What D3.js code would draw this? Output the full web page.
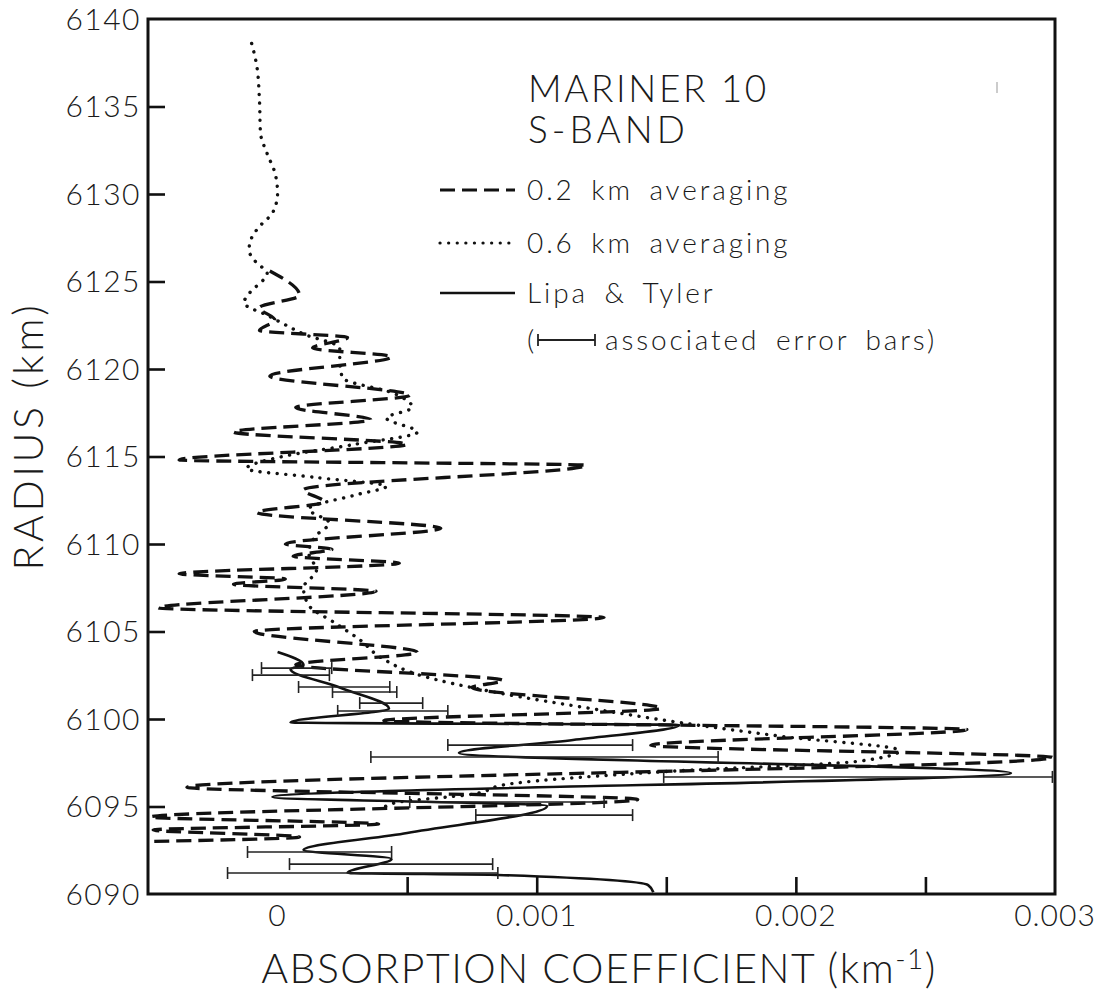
<!DOCTYPE html>
<html>
<head>
<meta charset="utf-8">
<script src="https://cdn.jsdelivr.net/npm/d3@7"></script>
<style>
  body { margin: 0; background: #fff; }
  text { font-family: Lato, "Open Sans", sans-serif; font-weight: 300; fill: #1a1a1a; }
</style>
</head>
<body>
<svg id="chart" width="1101" height="994"></svg>
<script>
// Radius (km) and absorption coefficient (km^-1) along each profile, top to bottom.
const avg02Radius = [6125.6, 6124.2, 6123.5, 6122.8, 6122.2, 6121.8, 6121.2, 6120.7, 6119.6, 6118.5,
  6117.8, 6117.1, 6116.4, 6115.7, 6114.8, 6114.5, 6113.1, 6112.4, 6111.8, 6110.9,
  6110.0, 6109.7, 6109.3, 6108.9, 6108.3, 6108.0, 6107.7, 6107.3, 6106.35, 6105.8,
  6105.0, 6103.8, 6103.1, 6102.2, 6101.8, 6100.6, 6099.9, 6099.4, 6098.5, 6097.8,
  6096.1, 6095.4, 6094.4, 6094.0, 6093.66, 6093.26, 6093.0];
const avg02Value = [-0.00003, 0.000085, -0.00007, -0.00001, -0.00007, 0.00027, 0.000135, 0.00044, -0.00003, 0.00051,
  0.00007, 0.00036, -0.00017, 0.0005, -0.00038, 0.00119, 0.0001, 0.00018, -0.00008, 0.00063,
  0.00003, 0.00021, 0.00006, 0.00047, -0.00038, 0.00003, -0.00017, 0.00038, -0.00046, 0.00126,
  -0.00009, 0.00054, 0.00007, 0.00087, 0.00075, 0.00148, 0.00041, 0.00266, 0.00144, 0.00299,
  -0.00035, 0.00139, -0.00049, 0.00039, -0.00048, 0.000085, -0.0005];

const avg06Radius = [6138.6, 6137.3, 6135.4, 6133.5, 6132.3, 6131.2, 6130.05, 6128.9, 6128.3, 6127.5,
  6126.8, 6126.05, 6125.5, 6124.3, 6123.8, 6123.0, 6122.6, 6122.0, 6121.2, 6120.5,
  6119.5, 6118.6, 6117.8, 6117.2, 6116.4, 6115.7, 6115.0, 6114.3, 6113.8, 6113.3,
  6112.8, 6112.0, 6111.2, 6110.5, 6109.5, 6108.5, 6107.5, 6106.5, 6105.5, 6104.5,
  6103.5, 6102.5, 6101.5, 6100.5, 6099.8, 6099.0, 6098.2, 6097.6, 6097.0, 6096.3,
  6095.7, 6095.2, 6094.8];
const avg06Value = [-0.0001, -0.00008, -0.00007, -0.000066, -0.00004, -0.00001, 0.0, -0.00002, -0.00006, -0.0001,
  -0.00011, -0.00008, -0.00004, -0.00011, -0.00013, -0.00003, 0.00002, 0.0001, 0.00024, 0.00024,
  0.00025, 0.00045, 0.00052, 0.00042, 0.00054, 0.0003, 0.00002, -0.00012, 0.00015, 0.00042,
  0.0003, 0.00012, 0.0002, 0.00015, 0.00012, 0.00015, 0.0001, 0.00012, 0.00022, 0.00032,
  0.0004, 0.00055, 0.00085, 0.00125, 0.00155, 0.00195, 0.0024, 0.00225, 0.0015, 0.0009,
  0.00075, 0.00045, 0.0004];

const lipaRadius = [6103.83, 6103.1, 6102.85, 6101.8, 6100.6, 6099.8, 6099.66, 6098.8, 6098.06, 6096.91,
  6095.54, 6095.03, 6093.49, 6092.51, 6092.0, 6091.2, 6091.09, 6090.51, 6090.1];
const lipaValue = [0.0, 0.0001, 0.00005, 0.00024, 0.00043, 0.00005, 0.00155, 0.00114, 0.0007, 0.00283,
  -0.00002, 0.00104, 0.0005, 0.0001, 0.00044, 0.00027, 0.00085, 0.00143, 0.00145];

// Error bars of the Lipa & Tyler profile: radius, low end, high end.
const errRadius = [6102.91, 6102.51, 6101.83, 6101.54, 6100.91, 6100.46, 6098.51, 6097.83, 6096.69, 6095.26,
  6094.51, 6092.4, 6091.71, 6091.2];
const errLow = [-0.000062, -0.000097, 0.000081, 0.000212, 0.000317, 0.000232, 0.000657, 0.00036, 0.00149, 0.00051,
  0.000765, -0.000116, 0.000046, -0.000193];
const errHigh = [0.000209, 0.0002, 0.000433, 0.00046, 0.00056, 0.000657, 0.00137, 0.0017, 0.00299, 0.00126,
  0.00137, 0.00044, 0.00083, 0.00085];

const yTicks = [6090, 6095, 6100, 6105, 6110, 6115, 6120, 6125, 6130, 6135, 6140];
const xTicks = [0, 0.0005, 0.001, 0.0015, 0.002, 0.0025];
const xTickLabels = ["0", "", "0.001", "", "0.002", ""];

const svg = d3.select("#chart");
const plotLeft = 148, plotRight = 1055, plotTop = 19, plotBottom = 894;

const x = d3.scaleLinear().domain([-0.0005, 0.003]).range([plotLeft, plotRight]);
const y = d3.scaleLinear().domain([6090, 6140]).range([plotBottom, plotTop]);

svg.append("defs").append("clipPath").attr("id", "plotClip")
  .append("rect").attr("x", plotLeft).attr("y", plotTop)
  .attr("width", plotRight - plotLeft).attr("height", plotBottom - plotTop);

// Axes: ticks point into the plot
const yAxis = d3.axisRight(y).tickValues(yTicks.slice(1, -1)).tickSize(17).tickFormat("");
svg.append("g").attr("transform", `translate(${plotLeft},0)`).call(yAxis)
  .call(g => g.select(".domain").remove())
  .call(g => g.selectAll("line").attr("stroke", "#111").attr("stroke-width", 2.6));

const xAxis = d3.axisTop(x).tickValues(xTicks.slice(1)).tickSize(17).tickFormat("");
svg.append("g").attr("transform", `translate(0,${plotBottom})`).call(xAxis)
  .call(g => g.select(".domain").remove())
  .call(g => g.selectAll("line").attr("stroke", "#111").attr("stroke-width", 2.6));

svg.append("rect").attr("x", plotLeft).attr("y", plotTop)
  .attr("width", plotRight - plotLeft).attr("height", plotBottom - plotTop)
  .attr("fill", "none").attr("stroke", "#111").attr("stroke-width", 3);

// Tick labels
svg.append("g").selectAll("text").data(yTicks).join("text")
  .attr("x", plotLeft - 7).attr("y", d => y(d)).attr("dy", "0.36em")
  .attr("text-anchor", "end").attr("font-size", 30).attr("letter-spacing", 1.5).text(d => d);

svg.append("g").selectAll("text").data(xTicks.concat([0.003])).join("text")
  .attr("x", d => x(d)).attr("y", 926)
  .attr("text-anchor", "middle").attr("font-size", 30).attr("letter-spacing", 1)
  .text((d, i) => i < xTickLabels.length ? xTickLabels[i] : "0.003");

// Axis titles
const xTitle = svg.append("text").attr("x", 599).attr("y", 983).attr("text-anchor", "middle")
  .attr("font-size", 41).attr("letter-spacing", 1.5);
xTitle.append("tspan").text("ABSORPTION COEFFICIENT (km");
xTitle.append("tspan").attr("dy", -14).attr("font-size", 28).text("-1");
xTitle.append("tspan").attr("dy", 14).text(")");

svg.append("text").attr("transform", "translate(43,436) rotate(-90)").attr("text-anchor", "middle")
  .attr("font-size", 41).attr("letter-spacing", 3.6).text("RADIUS (km)");

// Profiles
const toPoints = (rs, vs) => rs.map((r, i) => ({ r, v: vs[i] }));
const line = d3.line().x(d => x(d.v)).y(d => y(d.r)).curve(d3.curveMonotoneY);

const plot = svg.append("g").attr("clip-path", "url(#plotClip)");

plot.append("path").datum(toPoints(avg06Radius, avg06Value)).attr("d", line)
  .attr("fill", "none").attr("stroke", "#111").attr("stroke-width", 3.4)
  .attr("stroke-linecap", "round").attr("stroke-dasharray", "0.1,8.5");

plot.append("path").datum(toPoints(avg02Radius, avg02Value)).attr("d", line)
  .attr("fill", "none").attr("stroke", "#111").attr("stroke-width", 3.3)
  .attr("stroke-dasharray", "15,7");

plot.append("path").datum(toPoints(lipaRadius, lipaValue)).attr("d", line)
  .attr("fill", "none").attr("stroke", "#111").attr("stroke-width", 2.6);

// Error bars with end caps
const bars = plot.append("g").attr("stroke", "#222").attr("stroke-width", 1.6);
errRadius.forEach((r, i) => {
  const yy = y(r), x0 = x(errLow[i]), x1 = x(errHigh[i]);
  bars.append("line").attr("x1", x0).attr("x2", x1).attr("y1", yy).attr("y2", yy);
  bars.append("line").attr("x1", x0).attr("x2", x0).attr("y1", yy - 6).attr("y2", yy + 6);
  bars.append("line").attr("x1", x1).attr("x2", x1).attr("y1", yy - 6).attr("y2", yy + 6);
});

// Legend
const legend = svg.append("g");
legend.append("text").attr("x", 528).attr("y", 102).attr("font-size", 37).attr("letter-spacing", 2.6)
  .text("MARINER 10");
legend.append("text").attr("x", 528).attr("y", 143).attr("font-size", 37).attr("letter-spacing", 4)
  .text("S-BAND");

const legendRows = [
  { label: "0.2 km averaging", y: 200, dash: "15,7", width: 3.2, cap: "butt" },
  { label: "0.6 km averaging", y: 253, dash: "0.1,8.5", width: 3.2, cap: "round" },
  { label: "Lipa & Tyler", y: 303, dash: null, width: 2.6, cap: "butt" }
];
legendRows.forEach(row => {
  legend.append("line").attr("x1", 440).attr("x2", 515).attr("y1", row.y - 10).attr("y2", row.y - 10)
    .attr("stroke", "#111").attr("stroke-width", row.width).attr("stroke-linecap", row.cap)
    .attr("stroke-dasharray", row.dash);
  legend.append("text").attr("x", 527).attr("y", row.y).attr("font-size", 28)
    .attr("letter-spacing", 2.9).attr("word-spacing", 6).text(row.label);
});

legend.append("text").attr("x", 527).attr("y", 350).attr("font-size", 28).text("(");
const iconY = 340;
legend.append("line").attr("x1", 538).attr("x2", 595).attr("y1", iconY).attr("y2", iconY)
  .attr("stroke", "#222").attr("stroke-width", 1.8);
[538, 595].forEach(xx => legend.append("line").attr("x1", xx).attr("x2", xx)
  .attr("y1", iconY - 6).attr("y2", iconY + 6).attr("stroke", "#222").attr("stroke-width", 1.8));
legend.append("text").attr("x", 605).attr("y", 350).attr("font-size", 28)
  .attr("letter-spacing", 2.9).attr("word-spacing", 6).text("associated error bars)");

// Faint registration mark near the top right corner
svg.append("line").attr("x1", 997).attr("x2", 997).attr("y1", 82).attr("y2", 93)
  .attr("stroke", "#bbb").attr("stroke-width", 1.5);
</script>
</body>
</html>
